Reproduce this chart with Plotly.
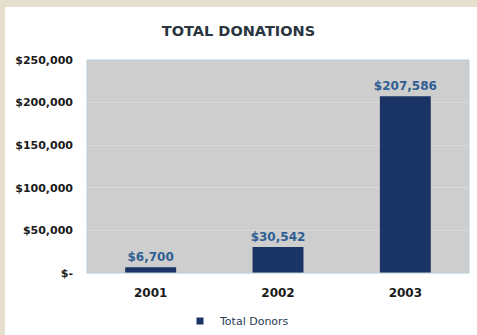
import plotly.graph_objects as go

years = ["2001", "2002", "2003"]
donations = [6700, 30542, 207586]
labels = ["$6,700", "$30,542", "$207,586"]
tick_vals = [0, 50000, 100000, 150000, 200000, 250000]
tick_text = ["$-", "$50,000", "$100,000", "$150,000", "$200,000", "$250,000"]
series_name = "Total Donors"

W, H = 477, 335
ml, mr, mt, mb = 87, 8, 60, 62
pw, ph = W - ml - mr, H - mt - mb
NAVY = "#1b3466"
FONT = "DejaVu Sans"

fig = go.Figure()
fig.add_trace(go.Bar(
    x=years, y=donations, name=series_name, showlegend=False,
    marker=dict(color=NAVY, line=dict(width=0)),
    text=["<b>" + t + "</b>" for t in labels], textposition="outside", cliponaxis=False,
    constraintext="none",
    textfont=dict(family=FONT, size=12, color="#2f5f93"),
))
# legend entry with a small square symbol
fig.add_trace(go.Scatter(
    x=[None], y=[None], mode="markers", name=series_name,
    marker=dict(symbol="square", size=7, color=NAVY),
))

fig.update_layout(
    width=W, height=H,
    margin=dict(l=ml, r=mr, t=mt, b=mb, autoexpand=False),
    paper_bgcolor="white", plot_bgcolor="#cecece",
    bargap=0.6,
    title=dict(text="<b>TOTAL DONATIONS</b>", x=0.5, xanchor="center", y=1 - 31 / H, yanchor="middle",
               font=dict(family=FONT, size=14.5, color="#2a3540")),
    showlegend=True,
    legend=dict(orientation="h", x=(180 - ml) / pw, xanchor="left", y=-(321 - mt - ph) / ph, yanchor="middle",
                font=dict(family=FONT, size=11, color="#2a3a55"),
                itemwidth=30, bgcolor="rgba(0,0,0,0)", tracegroupgap=0),
    xaxis=dict(tickfont=dict(family=FONT, size=12, color="#1a1a1a"), automargin=False,
               tickprefix="<b>", ticksuffix="</b>", showline=False, ticks="", ticklabelstandoff=11),
    yaxis=dict(range=[0, 250000], tickvals=tick_vals, ticktext=["<b>" + t + "</b>" for t in tick_text],
               tickfont=dict(family=FONT, size=11, color="#1a1a1a"), automargin=False,
               gridcolor="#d9d9d9", gridwidth=1, zeroline=False, ticks="", ticklabelstandoff=13),
    shapes=[
        dict(type="rect", xref="paper", yref="paper", x0=0, x1=1, y0=0, y1=1,
             line=dict(color="#b8cdd8", width=1), fillcolor="rgba(0,0,0,0)", layer="above"),
        dict(type="rect", xref="paper", yref="paper", x0=-ml / pw, x1=1 + mr / pw,
             y0=1 + (mt - 7) / ph, y1=1 + mt / ph, line=dict(width=0), fillcolor="#e6dfce"),
        dict(type="rect", xref="paper", yref="paper", x0=-ml / pw, x1=-(ml - 5) / pw,
             y0=-mb / ph, y1=1 + mt / ph, line=dict(width=0), fillcolor="#e6dfce"),
    ],
)
fig.write_html("out.html")
